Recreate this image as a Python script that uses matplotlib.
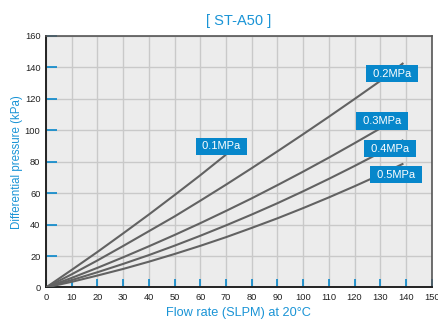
import matplotlib
matplotlib.use("Agg")
import matplotlib.pyplot as plt

plt.rcParams['font.family'] = ['Liberation Sans', 'DejaVu Sans']

flow = [0, 10, 20, 30, 40, 50, 60, 70, 80, 90, 100, 110, 120, 130, 139]
flow_01 = [0, 10, 20, 30, 40, 50, 60, 70]
dp_01 = [0, 11.2, 22.6, 34.4, 46.4, 58.8, 71.4, 84.5]
dp_02 = [0, 8.4, 17.2, 26.4, 35.8, 45.2, 55.2, 65.4, 75.9, 86.6, 97.5, 108.6, 119.9, 131.4, 142.8]
dp_03 = [0, 6.1, 12.5, 19.2, 26.2, 33.4, 40.9, 48.7, 56.7, 65.1, 73.7, 82.6, 91.8, 101.2, 109.9]
dp_04 = [0, 4.7, 9.7, 15.0, 20.6, 26.6, 32.9, 39.5, 46.4, 53.6, 61.2, 69.1, 77.3, 85.8, 93.8]
dp_05 = [0, 3.6, 7.6, 11.8, 16.4, 21.3, 26.5, 32.0, 37.9, 44.0, 50.5, 57.3, 64.4, 71.8, 78.8]

labels = ["0.1MPa", "0.2MPa", "0.3MPa", "0.4MPa", "0.5MPa"]
label_x = [68.2, 134.5, 130.6, 133.8, 136.1]
label_y = [89.7, 136.1, 106.0, 88.3, 71.8]

x_ticks = list(range(0, 151, 10))
y_ticks = list(range(0, 161, 20))

title = "[ ST-A50 ]"
xlabel = "Flow rate (SLPM) at 20\u00b0C"
ylabel = "Differential pressure (kPa)"

blue_text = "#1a94d6"
blue_box = "#0787cb"
line_col = "#626262"

fig = plt.figure(figsize=(4.38, 3.2), dpi=100)
ax = fig.add_axes([0.105, 0.1016, 0.8806, 0.786])
ax.set_facecolor("#ececec")

series = [(flow_01, dp_01), (flow, dp_02), (flow, dp_03), (flow, dp_04), (flow, dp_05)]
for xs, ys in series:
    ax.plot(xs, ys, color=line_col, lw=1.5, solid_capstyle="butt", zorder=3)

for lab, lx, ly in zip(labels, label_x, label_y):
    ax.text(lx, ly, " " + lab + " ", color="white", fontsize=8, ha="center", va="center",
            zorder=5,
            bbox=dict(boxstyle="square,pad=0.33", facecolor=blue_box, edgecolor="none"))

ax.set_xlim(0, 150)
ax.set_ylim(0, 160)
ax.set_xticks(x_ticks)
ax.set_yticks(y_ticks)
ax.grid(True, color="#c9c9c9", lw=1.0, zorder=1)
ax.set_axisbelow(True)
ax.tick_params(axis="both", direction="in", color=blue_box, width=1.2,
               labelsize=6.7, labelcolor="#222222", pad=4)
ax.tick_params(axis="y", length=8)
ax.tick_params(axis="x", length=6)
for side in ["top", "right"]:
    ax.spines[side].set_color("#555555")
    ax.spines[side].set_linewidth(1.2)
for side in ["left", "bottom"]:
    ax.spines[side].set_color("#222222")
    ax.spines[side].set_linewidth(1.4)

axc = 0.105 + 0.8806 / 2
fig.text(axc, 1 - 313.0 / 320, xlabel, color=blue_text, fontsize=9.2, ha="center", va="center")
fig.text(0.039, 0.494, ylabel, color=blue_text, fontsize=8.3, ha="center", va="center",
         rotation=90)
fig.text(axc, 0.933, title, color=blue_text, fontsize=10.5, ha="center", va="center")

fig.savefig("out.png", dpi=100)
